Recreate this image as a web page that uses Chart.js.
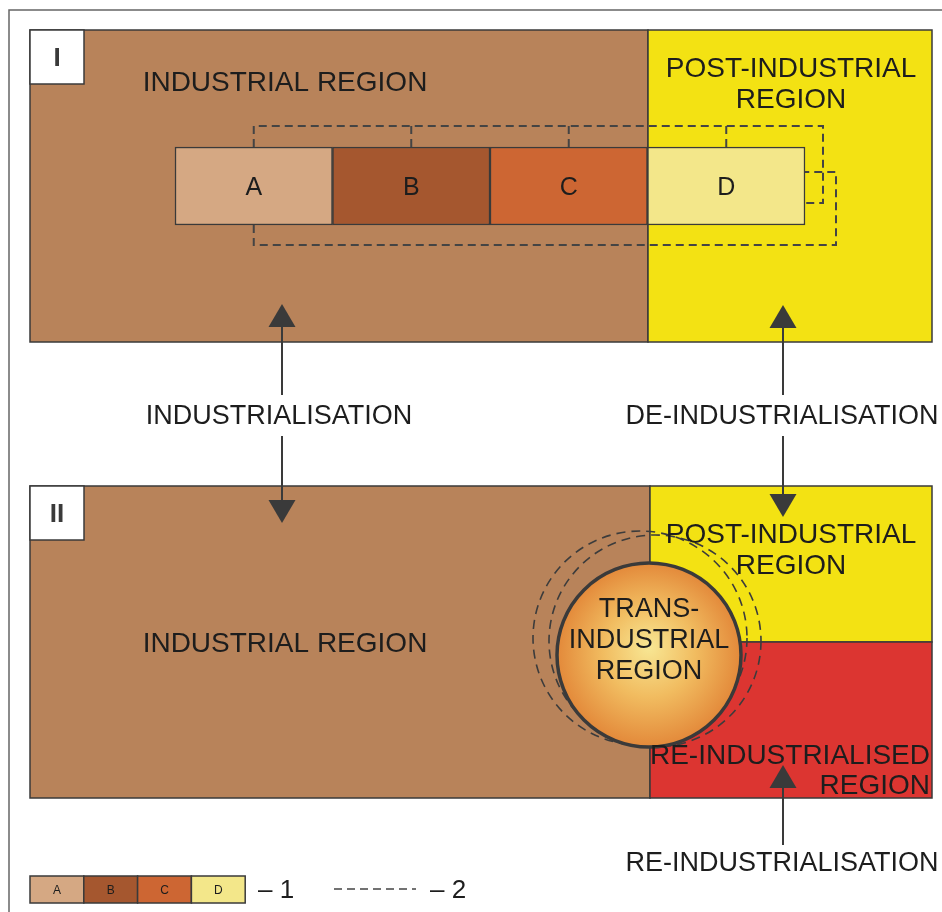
<!DOCTYPE html>
<html>
<head>
<meta charset="utf-8">
<script src="https://cdn.jsdelivr.net/npm/chart.js@4.4.1/dist/chart.umd.min.js"></script>
<style>
html, body { margin: 0; padding: 0; background: #fff; overflow: hidden; }
canvas { display: block; }
</style>
</head>
<body>
<canvas id="diagram" width="942" height="912"></canvas>
<script>
// stages of the industrial region and text of the scheme
const stages = ['A', 'B', 'C', 'D'];
const panelNames = ['I', 'II'];
const industrialRegion = ['INDUSTRIAL REGION'];
const postIndustrialRegion = ['POST-INDUSTRIAL', 'REGION'];
const transIndustrialRegion = ['TRANS-', 'INDUSTRIAL', 'REGION'];
const reIndustrialisedRegion = ['RE-INDUSTRIALISED', 'REGION'];
const processNames = ['INDUSTRIALISATION', 'DE-INDUSTRIALISATION', 'RE-INDUSTRIALISATION'];
const legendNames = ['– 1', '– 2'];

// colours
const stageColors = ['#D5A883', '#A5572F', '#CD6633', '#F3E78A'];
const brown = '#B8835A';
const yellow = '#F3E213';
const red = '#DC3531';
const ink = '#3a3a3a';
const FONT = '"Liberation Sans", Arial, sans-serif';

// layout in scale units (the scales span the whole canvas)
const W = 942, H = 912;
const stageBar = { x0: 175, w: 157.5, y: 186, h: 78 };
const legendBar = { x0: 30, w: 53.8, y: 889.5, h: 27 };

function stageData(bar) {
    return stages.map((s, i) => ({ x: [bar.x0 + i * bar.w, bar.x0 + (i + 1) * bar.w], y: bar.y }));
}

const schemePlugin = {
    id: 'scheme',
    beforeDatasetsDraw(chart) {
        const ctx = chart.ctx;
        const X = v => chart.scales.x.getPixelForValue(v);
        const Y = v => chart.scales.y.getPixelForValue(v);
        const rect = (x0, y0, x1, y1, fill, stroke) => {
            ctx.fillStyle = fill;
            ctx.fillRect(X(x0), Y(y0), X(x1) - X(x0), Y(y1) - Y(y0));
            if (stroke) {
                ctx.strokeStyle = stroke;
                ctx.lineWidth = 1.5;
                ctx.strokeRect(X(x0), Y(y0), X(x1) - X(x0), Y(y1) - Y(y0));
            }
        };
        ctx.save();
        // outer frame
        ctx.strokeStyle = '#666';
        ctx.lineWidth = 1.5;
        ctx.beginPath();
        ctx.moveTo(X(9), Y(H));
        ctx.lineTo(X(9), Y(10));
        ctx.lineTo(X(W), Y(10));
        ctx.stroke();

        // panel I
        rect(30, 30, 648, 342, brown, ink);
        rect(648, 30, 932, 342, yellow, ink);
        // panel II
        rect(30, 486, 650, 798, brown, ink);
        rect(650, 486, 932, 642, yellow, ink);
        rect(650, 642, 932, 798, red, ink);

        // panel number boxes
        ctx.font = 'bold 26px ' + FONT;
        ctx.textAlign = 'center';
        ctx.textBaseline = 'middle';
        [30, 486].forEach((top, i) => {
            rect(30, top, 84, top + 54, '#fff', ink);
            ctx.fillStyle = ink;
            ctx.fillText(panelNames[i], X(57), Y(top + 29));
        });

        // legend swatches of the stages
        stages.forEach((s, i) => {
            const x0 = legendBar.x0 + i * legendBar.w;
            rect(x0, legendBar.y - legendBar.h / 2, x0 + legendBar.w, legendBar.y + legendBar.h / 2, stageColors[i], ink);
        });
        ctx.restore();
    },
    afterDatasetsDraw(chart) {
        const ctx = chart.ctx;
        const X = v => chart.scales.x.getPixelForValue(v);
        const Y = v => chart.scales.y.getPixelForValue(v);
        const poly = pts => {
            ctx.beginPath();
            pts.forEach(([x, y], i) => i ? ctx.lineTo(X(x), Y(y)) : ctx.moveTo(X(x), Y(y)));
            ctx.stroke();
        };
        const text = (lines, x, y, step, size, align) => {
            ctx.font = size + 'px ' + FONT;
            ctx.textAlign = align || 'center';
            ctx.textBaseline = 'middle';
            ctx.fillStyle = '#1d1d1d';
            lines.forEach((l, i) => ctx.fillText(l, X(x), Y(y + 2 + i * step)));
        };
        const arrow = (x, yFrom, yTip) => {
            const dir = yTip < yFrom ? 1 : -1;
            ctx.strokeStyle = ink;
            ctx.lineWidth = 2;
            ctx.setLineDash([]);
            poly([[x, yFrom], [x, yTip + dir * 20]]);
            ctx.fillStyle = ink;
            ctx.beginPath();
            ctx.moveTo(X(x), Y(yTip));
            ctx.lineTo(X(x - 13.5), Y(yTip + dir * 23));
            ctx.lineTo(X(x + 13.5), Y(yTip + dir * 23));
            ctx.closePath();
            ctx.fill();
        };
        ctx.save();

        // stage letters
        ctx.textAlign = 'center';
        ctx.textBaseline = 'middle';
        ctx.fillStyle = '#1d1d1d';
        ctx.font = '25px ' + FONT;
        stages.forEach((s, i) => {
            ctx.fillText(s, X(stageBar.x0 + (i + 0.5) * stageBar.w), Y(stageBar.y + 2));
        });
        ctx.font = '12px ' + FONT;
        stages.forEach((s, i) => {
            ctx.fillText(s, X(legendBar.x0 + (i + 0.5) * legendBar.w), Y(legendBar.y + 1));
        });

        // dashed links between stages
        ctx.strokeStyle = '#444';
        ctx.lineWidth = 2;
        ctx.setLineDash([8, 5]);
        const mids = stages.map((s, i) => stageBar.x0 + (i + 0.5) * stageBar.w);
        const barEnd = stageBar.x0 + stages.length * stageBar.w;
        poly([[mids[0], 147], [mids[0], 126], [823, 126], [823, 203], [barEnd, 203]]);
        mids.slice(1).forEach(m => poly([[m, 126], [m, 147]]));
        poly([[mids[0], 225], [mids[0], 245], [836, 245], [836, 172], [barEnd, 172]]);

        // panel I labels
        text(industrialRegion, 285, 81, 0, 28);
        text(postIndustrialRegion, 791, 67, 31, 28);

        // processes
        arrow(282, 395, 304);
        arrow(282, 436, 523);
        arrow(783, 395, 305);
        arrow(783, 436, 517);
        arrow(783, 845, 765);
        text([processNames[0]], 279, 415, 0, 27);
        text([processNames[1]], 782, 415, 0, 27);
        text([processNames[2]], 782, 862, 0, 27);

        // trans-industrial circle with its dashed shifts
        ctx.strokeStyle = '#3c3c3c';
        ctx.lineWidth = 1.6;
        ctx.setLineDash([9, 6]);
        [[640, 638, 107], [655, 641, 106]].forEach(([cx, cy, r]) => {
            ctx.beginPath();
            ctx.arc(X(cx), Y(cy), X(cx + r) - X(cx), 0, Math.PI * 2);
            ctx.stroke();
        });
        ctx.setLineDash([]);
        const cx = X(649), cy = Y(655), r = X(741) - X(649);
        const g = ctx.createRadialGradient(cx, cy - 8, 0, cx, cy, r);
        g.addColorStop(0, '#F8E794');
        g.addColorStop(0.5, '#F1BC60');
        g.addColorStop(1, '#E3893A');
        ctx.fillStyle = g;
        ctx.beginPath();
        ctx.arc(cx, cy, r, 0, Math.PI * 2);
        ctx.fill();
        ctx.strokeStyle = ink;
        ctx.lineWidth = 3.5;
        ctx.stroke();

        // panel II labels
        text(industrialRegion, 285, 642, 0, 28);
        text(postIndustrialRegion, 791, 533, 31, 28);
        text(transIndustrialRegion, 649, 608, 31, 27);
        text(reIndustrialisedRegion, 930, 754, 30, 28, 'right');

        // legend
        text([legendNames[0]], 258, 889, 0, 26, 'left');
        ctx.strokeStyle = '#444';
        ctx.lineWidth = 1.6;
        ctx.setLineDash([8, 5]);
        poly([[334, 889], [416, 889]]);
        ctx.setLineDash([]);
        text([legendNames[1]], 430, 889, 0, 26, 'left');
        ctx.restore();
    }
};

const hiddenLinear = (min, max, reverse) => ({ type: 'linear', min, max, reverse, offset: false, grace: 0, display: false });

new Chart(document.getElementById('diagram'), {
    type: 'bar',
    data: {
        datasets: [{
            label: 'stages',
            data: stageData(stageBar),
            backgroundColor: stageColors,
            borderColor: ink,
            borderWidth: 1.5,
            borderSkipped: false,
            barThickness: stageBar.h
        }]
    },
    options: {
        indexAxis: 'y',
        responsive: false,
        animation: false,
        layout: { padding: 0 },
        plugins: { legend: { display: false }, tooltip: { enabled: false } },
        scales: {
            x: hiddenLinear(0, W, false),
            y: hiddenLinear(0, H, true)
        }
    },
    plugins: [schemePlugin]
});
</script>
</body>
</html>
